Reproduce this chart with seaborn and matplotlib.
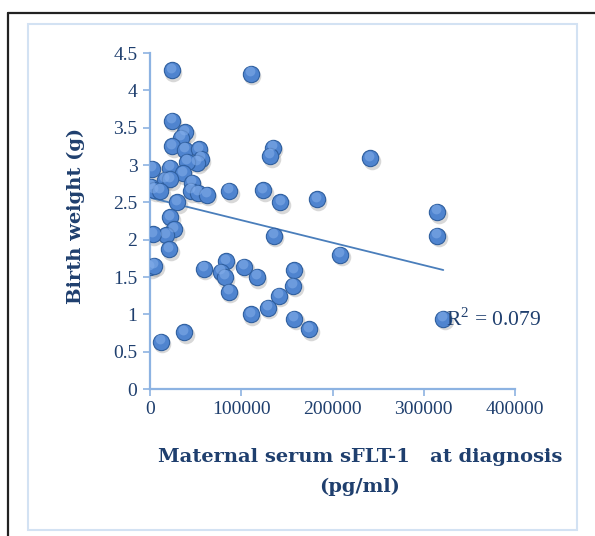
import numpy as np
import pandas as pd
import matplotlib
matplotlib.use("Agg")
import matplotlib.pyplot as plt
import matplotlib.transforms as mtransforms
from matplotlib.lines import Line2D
from matplotlib.patches import Rectangle
import seaborn as sns

# Maternal serum sFLT-1 (pg/ml) and birth weight
sflt1 = [23770, 110300, 23770, 38340, 33630, 24100, 38670, 53350, 55540, 51600,
         40200, 134400, 131800, 241000, 2500, 21600, 35800, 16100, 21900, 45700,
         800, 4400, 11000, 44600, 52900, 62100, 86900, 124000, 143000, 182500,
         29900, 21900, 26300, 17500, 2960, 20800, 0, 4700, 58700, 83000,
         77500, 81900, 86300, 103000, 116900, 158000, 156900, 140900, 129100, 110200,
         157700, 174500, 37200, 11700, 135400, 208100, 314800, 314800, 321400]
birth_weight = [4.27, 4.22, 3.59, 3.44, 3.36, 3.25, 3.20, 3.21, 3.08, 3.03,
                3.04, 3.23, 3.12, 3.09, 2.95, 2.96, 2.89, 2.80, 2.81, 2.76,
                2.71, 2.66, 2.65, 2.65, 2.63, 2.60, 2.65, 2.66, 2.50, 2.54,
                2.50, 2.30, 2.14, 2.06, 2.07, 1.87, 1.63, 1.65, 1.61, 1.71,
                1.57, 1.50, 1.30, 1.64, 1.50, 1.59, 1.38, 1.25, 1.09, 1.00,
                0.94, 0.80, 0.76, 0.63, 2.05, 1.80, 2.37, 2.05, 0.94]
x_ticks = [0, 100000, 200000, 300000, 400000]
y_ticks = [0, 0.5, 1, 1.5, 2, 2.5, 3, 3.5, 4, 4.5]
y_tick_labels = ["0", "0.5", "1", "1.5", "2", "2.5", "3", "3.5", "4", "4.5"]
r2_label = "R$^2$ = 0.079"

df = pd.DataFrame({"sflt1": sflt1, "bw": birth_weight})

sns.set_theme(style="white")
plt.rcParams["font.family"] = ["Liberation Serif", "DejaVu Serif"]
plt.rcParams["mathtext.fontset"] = "custom"
plt.rcParams["mathtext.rm"] = "Liberation Serif"

text_color = "#1F3F6E"
axis_color = "#8DB3E2"
marker_face = "#4F84CF"
marker_edge = "#2F5F9F"
line_color = "#4A7EBB"

fig = plt.figure(figsize=(5.95, 5.36), dpi=100)
W, H = 595, 536
ax = fig.add_axes([150 / W, (H - 389) / H, 365 / W, 336 / H])

def shifted(dx, dy):
    return ax.transData + mtransforms.ScaledTranslation(dx / 72, dy / 72, fig.dpi_scale_trans)

# soft drop shadow under each marker
sns.scatterplot(data=df, x="sflt1", y="bw", ax=ax, s=160, color="#808080",
                alpha=0.3, linewidth=0, legend=False, zorder=2)
ax.collections[-1].set_offset_transform(shifted(1.2, -1.8))
# main sphere body
sns.scatterplot(data=df, x="sflt1", y="bw", ax=ax, s=138, color=marker_face,
                edgecolor=marker_edge, linewidth=0.8, legend=False, zorder=3)
# top highlight
sns.scatterplot(data=df, x="sflt1", y="bw", ax=ax, s=50, color="#84AEEA",
                alpha=0.55, linewidth=0, legend=False, zorder=4)
ax.collections[-1].set_offset_transform(shifted(-0.6, 1.9))

# linear trend line over the data range
sns.regplot(data=df, x="sflt1", y="bw", ax=ax, scatter=False, ci=None,
            truncate=True, line_kws={"color": line_color, "lw": 1.3, "zorder": 2.5})

ax.set_xlim(0, 400000)
ax.set_ylim(0, 4.5)
ax.set_xticks(x_ticks)
ax.set_xticklabels([str(v) for v in x_ticks])
ax.set_yticks(y_ticks)
ax.set_yticklabels(y_tick_labels)
ax.set_xlabel("")
ax.set_ylabel("")

for side in ["top", "right"]:
    ax.spines[side].set_visible(False)
for side in ["left", "bottom"]:
    ax.spines[side].set_color(axis_color)
    ax.spines[side].set_linewidth(1.6)
ax.tick_params(axis="both", which="major", direction="out", length=5, width=1.2,
               color=axis_color, labelcolor=text_color, labelsize=14, pad=4,
               left=True, bottom=True)
ax.patch.set_alpha(0)

ax.text(446 / W, (H - 326) / H, r2_label, transform=fig.transFigure,
        fontsize=15.5, color=text_color, ha="left", va="baseline", zorder=6)

label_font = dict(family=["DejaVu Serif"], fontsize=14, fontweight="bold",
                  color=text_color)
fig.text(76 / W, (H - 216) / H, "Birth weight (g)", rotation=90, ha="center",
         va="center", **label_font)
fig.text(360 / W, (H - 457) / H, "Maternal serum sFLT-1   at diagnosis",
         ha="center", va="center", **label_font)
fig.text(360 / W, (H - 487) / H, "(pg/ml)", ha="center", va="center",
         **label_font)

# chart area border and outer frame
fig.add_artist(Rectangle((28 / W, (H - 530) / H), 549 / W, 506 / H,
                         transform=fig.transFigure, fill=False,
                         edgecolor="#D3E2F3", linewidth=1.5))
fig.add_artist(Line2D([8 / W, 1], [(H - 13) / H, (H - 13) / H],
                      transform=fig.transFigure, color="#222222", linewidth=1.6))
fig.add_artist(Line2D([8 / W, 8 / W], [0, (H - 13) / H],
                      transform=fig.transFigure, color="#222222", linewidth=1.6))

fig.savefig("out.png", dpi=100)
